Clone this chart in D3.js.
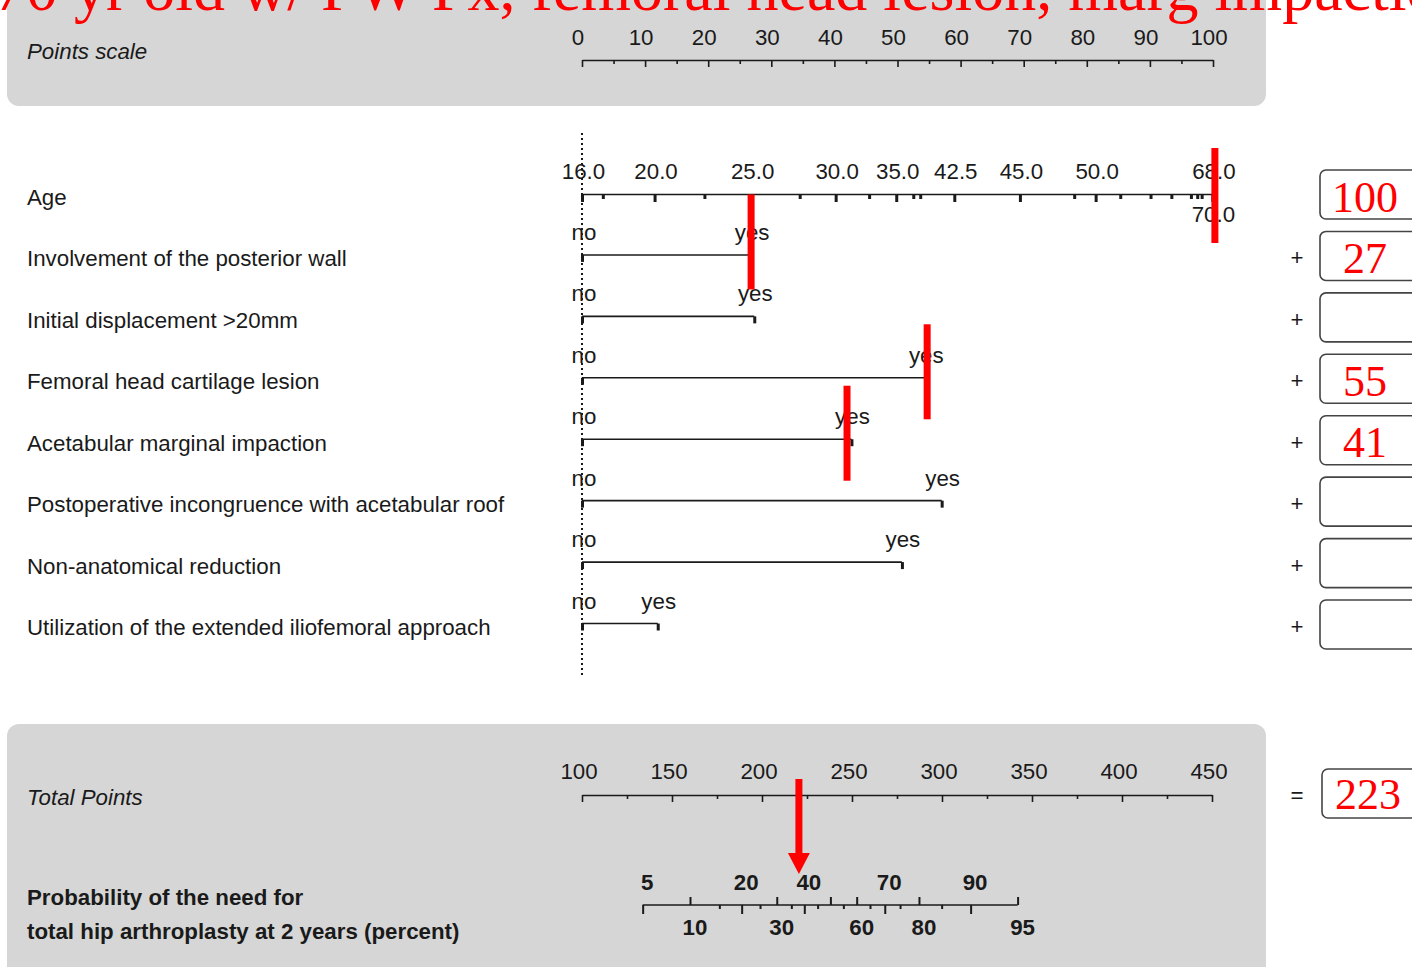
<!DOCTYPE html>
<html><head><meta charset="utf-8">
<script src="https://cdn.jsdelivr.net/npm/d3@7"></script>
<style>
html,body{margin:0;padding:0;background:#fff;}
svg{display:block;}
text{font-family:"Liberation Sans",Arial,sans-serif;fill:#1a1a1a;}
</style></head>
<body><svg id="c" width="1412" height="967"></svg>
<script>
// ---------- DATA ----------
const titleText = "70 yr old w/ PW Fx, femoral head lesion, marg impaction";
const pointsTicks = [0,10,20,30,40,50,60,70,80,90,100];
const pointsMinor = [5,15,25,35,45,55,65,75,85,95];

const ageLabels    = ["16.0","20.0","25.0","30.0","35.0","42.5","45.0","50.0","68.0"];
const ageLabelPts  = [0, 11.5, 26.8, 40.2, 49.8, 59.0, 69.4, 81.4, 99.9];
const ageMinorPts  = [3.3, 19.4, 34.5, 45.5, 52.5, 53.6, 78.0, 85.3, 90.1, 93.4, 96.5, 97.5, 98.2];
const ageBelowLabel = "70.0";
const ageBelowPts   = 99.9;

const binaryNames = [
  "Involvement of the posterior wall",
  "Initial displacement >20mm",
  "Femoral head cartilage lesion",
  "Acetabular marginal impaction",
  "Postoperative incongruence with acetabular roof",
  "Non-anatomical reduction",
  "Utilization of the extended iliofemoral approach"
];
const binaryYesPts = [26.8, 27.3, 54.4, 42.7, 57.0, 50.7, 12.0];
const levelNo = "no", levelYes = "yes";

const totalTicks = [100,150,200,250,300,350,400,450];
const totalMinor = [125,175,225,275,325,375,425];

const probTop     = [5,20,40,70,90];
const probTopTot  = [133.7,188.7,223.5,268.2,315.9];
const probBottom  = [10,30,60,80,95];
const probBotTot  = [160.0,208.2,252.6,287.2,342.0];
const probUnlabeled = [50];
const probUnlabeledTot = [238.0];
const probMinorTot = [176.3,198.9,216.3,230.9,245.2,260.0,276.7,299.8];

// hand-entered scores (right boxes) and red marks
const boxValues = ["100","27","","55","41","","",""];
const totalValue = "223";
const markerRows = [0,1,3,4];          // Age, posterior wall, femoral head, acetabular
const markerPts  = [100.3, 26.8, 54.7, 42.0];
const markerTotal = 220.5;

// ---------- LAYOUT ----------
const svg = d3.select("#c");
const xPts = d3.scaleLinear().domain([0,100]).range([582,1213]);
const xTot = d3.scaleLinear().domain([100,450]).range([582,1212]);
const rowY = i => 197 + i*61.43;   // 0 = Age, 1..7 binary rows
const ink = "#1a1a1a", gray = "#d6d6d6", red = "#ff0000";
const FS = 22.3;

// panels
svg.append("rect").attr("x",7).attr("y",-30).attr("width",1259).attr("height",136).attr("rx",12).attr("fill",gray);
svg.append("rect").attr("x",7).attr("y",724).attr("width",1259).attr("height",280).attr("rx",12).attr("fill",gray);

function styleAxis(g, w){
  g.attr("font-family",null).attr("font-size",null);
  g.selectAll(".domain").attr("stroke",ink).attr("stroke-width",1.6);
  g.selectAll(".tick line").attr("stroke",ink).attr("stroke-width",w);
}

// ---- Points scale ----
svg.append("text").attr("x",27).attr("y",59).attr("font-size",FS).attr("font-style","italic").text("Points scale");
let g = svg.append("g").attr("transform","translate(0,60)")
  .call(d3.axisBottom(xPts).tickValues(pointsTicks).tickSize(7).tickSizeOuter(0).tickFormat(""));
styleAxis(g,1.6);
g = svg.append("g").attr("transform","translate(0,60)")
  .call(d3.axisBottom(xPts).tickValues(pointsMinor).tickSize(4).tickSizeOuter(0).tickFormat(""));
styleAxis(g,1.6); g.select(".domain").remove();
svg.append("g").selectAll("text").data(pointsTicks).join("text")
  .attr("x",d=>xPts(d)-4).attr("y",45).attr("text-anchor","middle").attr("font-size",FS).text(d=>d);

// dotted reference line
svg.append("line").attr("x1",xPts(0)).attr("x2",xPts(0)).attr("y1",133).attr("y2",676)
  .attr("stroke",ink).attr("stroke-width",2).attr("stroke-dasharray","2,3");

// ---- Age ----
const ageY = rowY(0) - 3;
svg.append("text").attr("x",27).attr("y",rowY(0)+8).attr("font-size",FS).text("Age");
g = svg.append("g").attr("transform",`translate(0,${ageY})`)
  .call(d3.axisBottom(xPts).tickValues(ageLabelPts).tickSize(8).tickSizeOuter(0).tickFormat(""));
styleAxis(g,3);
g = svg.append("g").attr("transform",`translate(0,${ageY})`)
  .call(d3.axisBottom(xPts).tickValues(ageMinorPts).tickSize(5).tickSizeOuter(0).tickFormat(""));
styleAxis(g,3); g.select(".domain").remove();
svg.append("g").selectAll("text").data(ageLabels).join("text")
  .attr("x",(d,i)=>xPts(ageLabelPts[i])+1.5).attr("y",ageY-15.5).attr("text-anchor","middle")
  .attr("font-size",FS).text(d=>d);
svg.append("text").attr("x",xPts(ageBelowPts)+1).attr("y",ageY+28).attr("text-anchor","middle")
  .attr("font-size",FS).text(ageBelowLabel);

// ---- binary rows ----
binaryNames.forEach((name,k)=>{
  const i = k+1, cy = rowY(i), ly = cy - 3.5;
  svg.append("text").attr("x",27).attr("y",cy+8).attr("font-size",FS).text(name);
  const ax = svg.append("g").attr("transform",`translate(0,${ly})`)
    .call(d3.axisBottom(xPts).tickValues([0, binaryYesPts[k]]).tickSize(7).tickSizeOuter(0).tickFormat(""));
  ax.select(".domain").attr("d",`M${xPts(0)},0H${xPts(binaryYesPts[k])}`);
  styleAxis(ax,3);
  svg.append("text").attr("x",xPts(0)+2).attr("y",ly-15).attr("text-anchor","middle").attr("font-size",FS).text(levelNo);
  svg.append("text").attr("x",xPts(binaryYesPts[k])+1).attr("y",ly-15).attr("text-anchor","middle").attr("font-size",FS).text(levelYes);
});

// ---- Total points ----
svg.append("text").attr("x",27).attr("y",805).attr("font-size",FS).attr("font-style","italic").text("Total Points");
const totY = 795;
g = svg.append("g").attr("transform",`translate(0,${totY})`)
  .call(d3.axisBottom(xTot).tickValues(totalTicks).tickSize(7).tickSizeOuter(0).tickFormat(""));
styleAxis(g,1.6);
g = svg.append("g").attr("transform",`translate(0,${totY})`)
  .call(d3.axisBottom(xTot).tickValues(totalMinor).tickSize(4).tickSizeOuter(0).tickFormat(""));
styleAxis(g,1.6); g.select(".domain").remove();
svg.append("g").selectAll("text").data(totalTicks).join("text")
  .attr("x",d=>xTot(d)-3).attr("y",totY-16).attr("text-anchor","middle").attr("font-size",FS).text(d=>d);

// ---- Probability ----
svg.append("text").attr("x",27).attr("y",905).attr("font-size",FS).attr("font-weight","bold").text("Probability of the need for");
svg.append("text").attr("x",27).attr("y",939).attr("font-size",FS).attr("font-weight","bold").text("total hip arthroplasty at 2 years (percent)");
const prY = 905;
g = svg.append("g").attr("transform",`translate(0,${prY})`)
  .call(d3.axisBottom(xTot).tickValues(probTopTot).tickSize(9).tickSizeOuter(0).tickFormat(""));
styleAxis(g,2);
g.select(".domain").attr("d",`M${xTot(probTopTot[0])},0H${xTot(probBotTot[probBotTot.length-1])}`);
g = svg.append("g").attr("transform",`translate(0,${prY})`)
  .call(d3.axisBottom(xTot).tickValues(probMinorTot).tickSize(4).tickSizeOuter(0).tickFormat(""));
styleAxis(g,2); g.select(".domain").remove();
g = svg.append("g").attr("transform",`translate(0,${prY})`)
  .call(d3.axisTop(xTot).tickValues(probBotTot.concat(probUnlabeledTot)).tickSize(8).tickSizeOuter(0).tickFormat(""));
styleAxis(g,2); g.select(".domain").remove();
svg.append("g").selectAll("text").data(probTop).join("text")
  .attr("x",(d,i)=>xTot(probTopTot[i])+4.5).attr("y",890).attr("text-anchor","middle")
  .attr("font-size",FS).attr("font-weight","bold").text(d=>d);
svg.append("g").selectAll("text").data(probBottom).join("text")
  .attr("x",(d,i)=>xTot(probBotTot[i])+5).attr("y",935).attr("text-anchor","middle")
  .attr("font-size",FS).attr("font-weight","bold").text(d=>d);

// ---- score boxes ----
const boxX = 1320;
boxValues.forEach((v,i)=>{
  const cy = rowY(i);
  svg.append("rect").attr("x",boxX).attr("y",cy-27).attr("width",130).attr("height",49).attr("rx",6)
    .attr("fill","#fff").attr("stroke","#444").attr("stroke-width",1.6);
  if(i>0) svg.append("text").attr("x",1297).attr("y",cy+7).attr("text-anchor","middle").attr("font-size",FS).text("+");
  if(v) svg.append("text").attr("x",1365).attr("y",cy+14.5).attr("text-anchor","middle")
    .style("font-family","'Liberation Serif','Times New Roman',serif").style("fill",red).attr("font-size",44).text(v);
});
svg.append("rect").attr("x",1322).attr("y",769).attr("width",130).attr("height",49).attr("rx",6)
  .attr("fill","#fff").attr("stroke","#444").attr("stroke-width",1.6);
svg.append("text").attr("x",1297).attr("y",803).attr("text-anchor","middle").attr("font-size",FS).text("=");
svg.append("text").attr("x",1368).attr("y",809).attr("text-anchor","middle")
  .style("font-family","'Liberation Serif','Times New Roman',serif").style("fill",red).attr("font-size",44).text(totalValue);

// ---- red marks ----
const markOffsets = [[-49,46],[-64,31],[-57,38],[-57,38]];
markerRows.forEach((r,j)=>{
  const cy = rowY(r);
  svg.append("rect").attr("x",xPts(markerPts[j])-3.5).attr("y",cy+markOffsets[j][0])
    .attr("width",7).attr("height",markOffsets[j][1]-markOffsets[j][0]).attr("fill",red);
});
const mx = xTot(markerTotal);
svg.append("rect").attr("x",mx-3.5).attr("y",779).attr("width",7).attr("height",76).attr("fill",red);
svg.append("path").attr("d",`M${mx-11},853L${mx+11},853L${mx},874Z`).attr("fill",red);

// ---- title (cropped at top, as in the reference) ----
svg.append("text").attr("x",-6).attr("y",10)
  .style("font-family","'Liberation Serif','Times New Roman',serif").style("fill",red)
  .attr("font-size",64).text(titleText);
</script></body></html>
